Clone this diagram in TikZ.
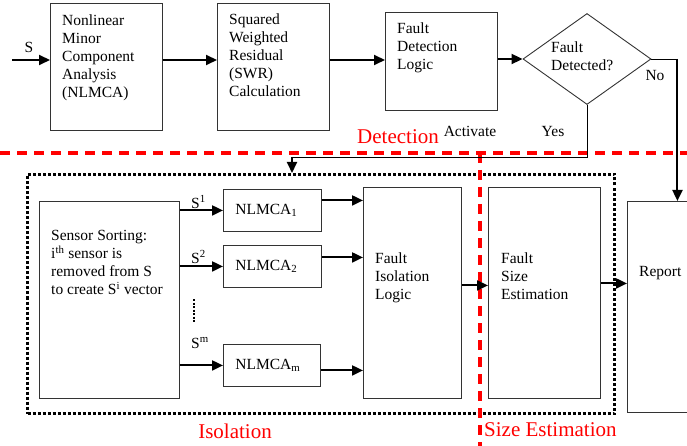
\documentclass[tikz,border=0pt]{standalone}
\usepackage{fontspec}
\setmainfont{Liberation Serif}
\usetikzlibrary{arrows.meta,shapes.geometric}

\tikzset{
  blk/.style={draw=black!80, line width=0.9pt, anchor=north west, inner sep=0pt},
  txt/.style={anchor=north west, align=left, inner sep=0pt, font=\fontsize{15.5}{18}\selectfont},
  arr/.style={line width=2pt, -{Triangle[length=11pt,width=10pt]}},
  thinline/.style={line width=0.9pt},
  zone/.style={red, line width=3.5pt, dash pattern=on 10pt off 7pt},
  zonelbl/.style={text=red, inner sep=0pt, font=\fontsize{21}{24}\selectfont},
  isobox/.style={draw, line width=3pt, dash pattern=on 3pt off 2pt, anchor=north west, inner sep=0pt}
}

\begin{document}
\begin{tikzpicture}[x=1pt,y=-1pt]
\useasboundingbox (0,0) rectangle (687,446);
\clip (0,0) rectangle (687,446);

% detection
\node[blk, minimum width=112pt, minimum height=127pt] (nlmca) at (50,3) {};
\node[txt] (nlmcaT) at (62,15) {Nonlinear\\Minor\\Component\\Analysis\\(NLMCA)};
\node[blk, minimum width=112pt, minimum height=127pt] (swr) at (217,3) {};
\node[txt] (swrT) at (229,14) {Squared\\Weighted\\Residual\\(SWR)\\Calculation};
\node[blk, minimum width=112pt, minimum height=98pt] (fdl) at (385,12) {};
\node[txt] (fdlT) at (397,23) {Fault\\Detection\\Logic};
\node[draw=black!80, thinline, diamond, minimum width=128pt, minimum height=91pt, inner sep=0pt] (dia) at (587,59) {};
\node[txt] (diaT) at (551,42) {Fault\\Detected?};

% isolation and size estimation
\node[isobox, minimum width=587pt, minimum height=239pt] (iso) at (26,173) {};
\node[blk, minimum width=140pt, minimum height=197pt] (sort) at (39,201) {};
\node[txt] (sortT) at (51,230) {Sensor Sorting:\\i\textsuperscript{th} sensor is\\removed from S\\to create S\textsuperscript{i} vector};
\node[blk, txt, draw=black!80, inner xsep=12pt, text width=74pt, minimum height=42pt] (n1) at (223,189) {NLMCA\textsubscript{1}};
\node[blk, txt, draw=black!80, inner xsep=12pt, text width=74pt, minimum height=42pt] (n2) at (223,245) {NLMCA\textsubscript{2}};
\node[blk, txt, draw=black!80, inner xsep=12pt, text width=73pt, minimum height=42pt] (nm) at (223,344) {NLMCA\textsubscript{m}};
\node[blk, minimum width=98pt, minimum height=211pt] (fil) at (363,187) {};
\node[txt] (filT) at (375,253) {Fault\\Isolation\\Logic};
\node[blk, minimum width=112pt, minimum height=211pt] (fse) at (488,187) {};
\node[txt] (fseT) at (501,253) {Fault\\Size\\Estimation};
\node[blk, minimum width=100pt, minimum height=211pt] (report) at (627,201) {};
\node[txt] (reportT) at (639,266) {Report};

\node[txt, anchor=base west] (s1) at (191,208) {S\textsuperscript{1}};
\node[txt, anchor=base west] (s2) at (191,263) {S\textsuperscript{2}};
\node[txt, anchor=base west] (sm) at (191,348) {S\textsuperscript{m}};
\draw[line width=2pt, dash pattern=on 2pt off 1.5pt] (194,299) -- (194,322);

% zones
\draw[zone] (0,153) -- (687,153);
\draw[zone] (480,153) -- (480,446);
\node[zonelbl, anchor=base] (detL) at (398,144) {Detection};
\node[zonelbl, anchor=base] (isoL) at (235,438) {Isolation};
\node[zonelbl, anchor=base west] (sizeL) at (484,436) {Size Estimation};

% connections
\coordinate (sIn) at (12,60);
\node[txt, anchor=base] (sLbl) at (29,53) {S};
\draw[arr] (sIn) -- (sIn -| nlmca.west);
\draw[arr] (sIn -| nlmca.east) -- (sIn -| swr.west);
\draw[arr] (sIn -| swr.east) -- (sIn -| fdl.west);
\draw[arr] (fdl.east |- dia.west) -- (dia.west);

\coordinate (noTurn) at (dia.east -| report.north);
\draw[thinline] (dia.east) -- (noTurn);
\draw[arr] (noTurn) -- (report.north);
\node[txt, anchor=base] (noLbl) at (655,81) {No};

\coordinate (yesTurn) at (292,157);
\draw[thinline] (dia.south) |- (yesTurn);
\draw[arr] (yesTurn) -- (yesTurn |- iso.north);
\node[txt, anchor=base] (yesLbl) at (553,137) {Yes};
\node[txt, anchor=base] (actLbl) at (470,137) {Activate};

\draw[arr] (sort.east |- n1.west) -- (n1.west);
\draw[arr] (sort.east |- n2.west) -- (n2.west);
\draw[arr] (sort.east |- nm.west) -- (nm.west);

\path ([yshift=10pt]n1.east) coordinate (o1);
\path ([yshift=9pt]n2.east) coordinate (o2);
\path ([yshift=-5pt]nm.east) coordinate (om);
\draw[arr] (o1) -- (o1 -| fil.west);
\draw[arr] (o2) -- (o2 -| fil.west);
\draw[arr] (om) -- (om -| fil.west);

\path ([yshift=7.5pt]fil.east) coordinate (o4);
\draw[arr] (o4) -- (o4 -| fse.west);
\path ([yshift=9.5pt]fse.east) coordinate (o5);
\draw[arr] (o5) -- (o5 -| report.west);

\end{tikzpicture}
\end{document}
